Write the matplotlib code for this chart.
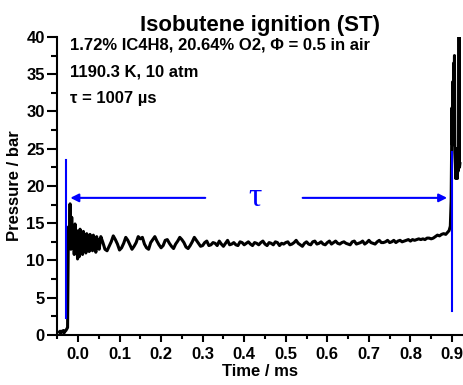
import numpy as np
import matplotlib
matplotlib.use('Agg')
import matplotlib.pyplot as plt
from matplotlib.ticker import MultipleLocator

plt.rcParams['font.family'] = ['Liberation Sans', 'DejaVu Sans']
plt.rcParams['font.weight'] = 'bold'

# early part of the trace (fine sampling, 0.002 ms)
early_t = np.round(np.arange(-0.045, 0.0515, 0.002), 4)
early_p = [0.4, 0.5, 0.3, 0.5, 0.4, 0.6, 0.3, 0.5, 0.6, 0.8, 1.0,
           14.5, 12.0, 17.6, 11.5, 15.8, 11.8, 14.6, 10.8, 14.9, 11.2,
           14.0, 10.2, 13.8, 10.5, 14.2, 11.0, 13.5, 10.8, 13.9, 11.5,
           13.4, 11.0, 13.6, 11.8, 13.2, 11.2, 13.5, 11.6, 13.0, 11.3,
           13.4, 11.9, 12.9, 11.1, 13.2, 12.0, 12.8, 11.5]

# main part (0.005 ms sampling)
main_t = np.round(np.arange(0.055, 0.8905, 0.005), 4)
main_p = [13.2, 12.4, 11.5, 11.3, 11.9, 12.5, 13.3, 12.8, 12.2, 11.4,
          11.7, 12.3, 13.1, 12.7, 12.1, 11.5, 11.9, 12.4, 13.2, 12.9,
          13.1, 12.2, 11.7, 11.5, 12.4, 12.8, 13.2, 12.6, 12.1, 11.7,
          12.0, 12.7, 12.8, 12.3, 11.9, 11.6, 12.2, 12.6, 13.1, 12.8,
          12.4, 11.8, 11.6, 12.0, 12.5, 13.1, 12.7, 12.3, 11.9, 12.0,
          12.4, 12.6, 12.0, 12.1, 12.4, 12.3, 12.0, 12.6, 12.2, 11.9,
          12.3, 12.7, 12.1, 12.2, 12.4, 12.1, 12.0, 12.5, 12.4, 12.1,
          12.3, 12.5, 12.2, 12.0, 12.4, 12.3, 12.1, 12.4, 12.6, 12.2,
          12.0, 12.4, 12.3, 12.1, 12.5, 12.4, 12.0, 12.3, 12.2, 12.4,
          12.5, 12.1, 12.2, 12.4, 12.7, 12.3, 12.1, 11.9, 12.3, 12.5,
          12.2, 12.1, 12.5, 12.6, 12.2, 12.3, 12.5, 12.2, 12.1, 12.4,
          12.6, 12.2, 12.4, 12.6, 12.3, 12.2, 12.4, 12.5, 12.3, 12.2,
          12.1, 12.5, 12.6, 12.2, 12.3, 12.4, 12.6, 12.2, 12.4, 12.7,
          12.4, 12.3, 12.2, 12.5, 12.7, 12.4, 12.4, 12.5, 12.7, 12.4,
          12.5, 12.7, 12.4, 12.6, 12.7, 12.5, 12.6, 12.7, 12.8, 12.6,
          12.8, 12.7, 12.8, 12.9, 12.8, 12.9, 12.8, 13.0, 13.0, 12.9,
          13.0, 13.2, 13.4, 13.3, 13.5, 13.6, 13.5, 13.8]

# ignition
end_t = [0.893, 0.896, 0.898, 0.899, 0.900, 0.901, 0.902, 0.903, 0.904, 0.905,
         0.906, 0.907, 0.908, 0.909, 0.910, 0.911, 0.912, 0.913, 0.914, 0.915,
         0.916, 0.917, 0.918, 0.919]
end_p = [14.0, 14.6, 18.0, 24.0, 30.5, 25.5, 34.0, 27.0, 36.5, 28.0,
         37.5, 24.5, 23.0, 21.0, 25.0, 21.5, 24.5, 21.0, 23.5, 22.0,
         24.0, 42.0, 22.5, 23.0]

t = np.concatenate([early_t, main_t, end_t])
p = np.concatenate([early_p, main_p, end_p])

t_start, t_ign = -0.029, 0.900
arrow_y = 18.4

fig = plt.figure(figsize=(4.63, 3.85), dpi=100)
ax = fig.add_axes([0.1235, 0.130, 0.8765, 0.774])

ax.plot(t, p, color='black', lw=2.2)

ax.plot([t_start, t_start], [2.3, 23.5], color='blue', lw=1.5)
ax.plot([t_ign, t_ign], [3.2, 24.5], color='blue', lw=1.5)
ax.annotate('', xy=(-0.025, arrow_y), xytext=(0.313, arrow_y),
            arrowprops=dict(arrowstyle='-|>', color='blue', lw=1.5, mutation_scale=12))
ax.annotate('', xy=(0.895, arrow_y), xytext=(0.534, arrow_y),
            arrowprops=dict(arrowstyle='-|>', color='blue', lw=1.5, mutation_scale=12))
ax.text(0.426, arrow_y, 'τ', color='blue', fontsize=24, fontweight='normal',
        family=['Liberation Serif', 'DejaVu Serif'], ha='center', va='center')

ax.text(-0.019, 38.9, '1.72% IC4H8, 20.64% O2, Φ = 0.5 in air', fontsize=12, va='center')
ax.text(-0.019, 35.3, '1190.3 K, 10 atm', fontsize=12, va='center')
ax.text(-0.019, 31.8, 'τ = 1007 µs', fontsize=12, va='center')

ax.set_xlim(-0.05, 0.9265)
ax.set_ylim(0, 40)
ax.xaxis.set_major_locator(MultipleLocator(0.1))
ax.xaxis.set_minor_locator(MultipleLocator(0.05))
ax.yaxis.set_major_locator(MultipleLocator(5))
ax.yaxis.set_minor_locator(MultipleLocator(2.5))
ax.xaxis.set_major_formatter(plt.FuncFormatter(lambda v, pos: f'{v:.1f}'))
for s in ['top', 'right']:
    ax.spines[s].set_visible(False)
for s in ['left', 'bottom']:
    ax.spines[s].set_linewidth(1.5)
ax.tick_params(which='major', length=5, width=1.5, labelsize=12, direction='out', pad=4)
ax.tick_params(which='minor', length=3, width=1.5, direction='out')
ax.tick_params(axis='y', which='major', length=7, pad=2)
ax.tick_params(axis='y', which='minor', length=4)

ax.set_xlabel('Time / ms', fontsize=12, fontweight='bold', labelpad=1)
ax.set_ylabel('Pressure / bar', fontsize=12, fontweight='bold', labelpad=3)
ax.set_title('Isobutene ignition (ST)', fontsize=16, fontweight='bold', pad=4)

fig.savefig('out.png', dpi=100)
